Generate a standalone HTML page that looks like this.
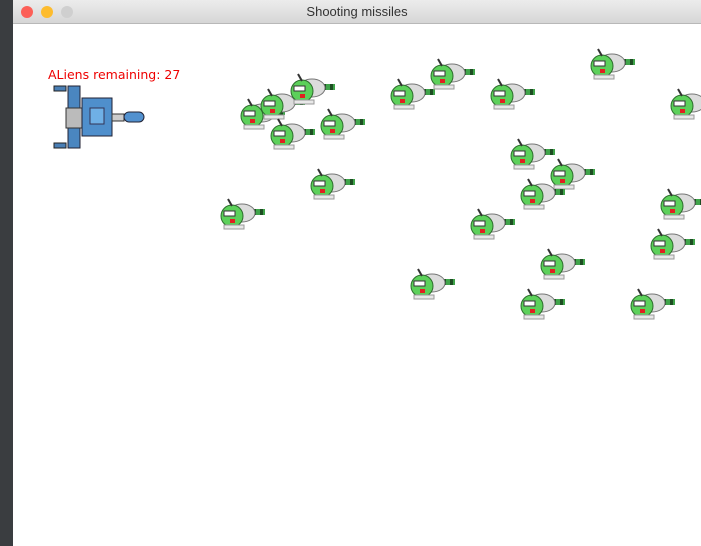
<!DOCTYPE html>
<html><head><meta charset="utf-8"><style>
html,body{margin:0;padding:0;width:701px;height:546px;overflow:hidden;background:#2e3033;font-family:"Liberation Sans",sans-serif}
#side{position:absolute;left:0;top:0;width:13px;height:546px;background:#3a3d40}
#win{position:absolute;left:13px;top:0;width:688px;height:546px;background:#fff}
#title{position:absolute;left:0;top:0;width:688px;height:23px;background:linear-gradient(#ececec,#d6d6d6);border-bottom:1px solid #b8b8b8;text-align:center;font-size:13px;line-height:23px;color:#333}
.dot{position:absolute;top:6px;width:12px;height:12px;border-radius:50%}
#hud{position:absolute;left:35px;top:67px;color:#e00;font-size:12.5px;font-family:"DejaVu Sans","Liberation Sans",sans-serif}
svg{position:absolute;left:0;top:0}
</style></head><body>
<div id="side"></div>
<div id="win">
<div id="title">Shooting missiles
<div class="dot" style="left:8px;background:#fc5f57"></div>
<div class="dot" style="left:28px;background:#fdbc2e"></div>
<div class="dot" style="left:48px;background:#cfcfcf"></div>
</div>
<div id="hud">ALiens remaining: 27</div>
</div>
<svg width="701" height="546">
<defs>
<g id="alien">
<rect x="20" y="14" width="25" height="6" fill="#3fa34a"/>
<rect x="26" y="14" width="3" height="6" fill="#1d4d22"/><rect x="33" y="14" width="3" height="6" fill="#1d4d22"/><rect x="40" y="14" width="3" height="6" fill="#1d4d22"/>
<ellipse cx="22" cy="18" rx="13" ry="9" fill="#dcdcdc" stroke="#777"/>
<circle cx="12" cy="21" r="11" fill="#5cd05a" stroke="#2d6b2d"/>
<rect x="4" y="16" width="11" height="5" fill="#fff" stroke="#333"/>
<rect x="10" y="24" width="5" height="4" fill="#e02020"/>
<rect x="4" y="30" width="20" height="4" fill="#e8e8e8" stroke="#999"/>
<line x1="8" y1="4" x2="12" y2="11" stroke="#333" stroke-width="2"/>
</g>
</defs>
<g>
<rect x="54" y="86" width="12" height="5" fill="#4a7fb5" stroke="#222"/>
<rect x="54" y="143" width="12" height="5" fill="#4a7fb5" stroke="#222"/>
<rect x="68" y="86" width="12" height="62" fill="#4a86c0" stroke="#223"/>
<rect x="66" y="108" width="16" height="20" fill="#bbb" stroke="#333"/>
<rect x="82" y="98" width="30" height="38" fill="#4f8fcc" stroke="#223"/>
<rect x="90" y="108" width="14" height="16" fill="#6fb0e6" stroke="#335"/>
<rect x="112" y="114" width="12" height="7" fill="#ccc" stroke="#333"/>
<rect x="124" y="112" width="20" height="10" rx="5" fill="#5291cf" stroke="#223"/>
</g>
<g id="aliens"></g>
</svg>
<script>
const alienX=[240,260,290,270,320,310,220,390,430,490,590,670,510,550,520,470,660,650,540,410,520,630];
const alienY=[95,85,70,115,105,165,195,75,55,75,45,85,135,155,175,205,185,225,245,265,285,285];
const g=document.getElementById('aliens');
alienX.forEach((x,i)=>{
 const u=document.createElementNS('http://www.w3.org/2000/svg','use');
 u.setAttribute('href','#alien');
 u.setAttribute('transform','translate('+x+','+alienY[i]+')');
 
 
 g.appendChild(u);
});
</script>
</body></html>
